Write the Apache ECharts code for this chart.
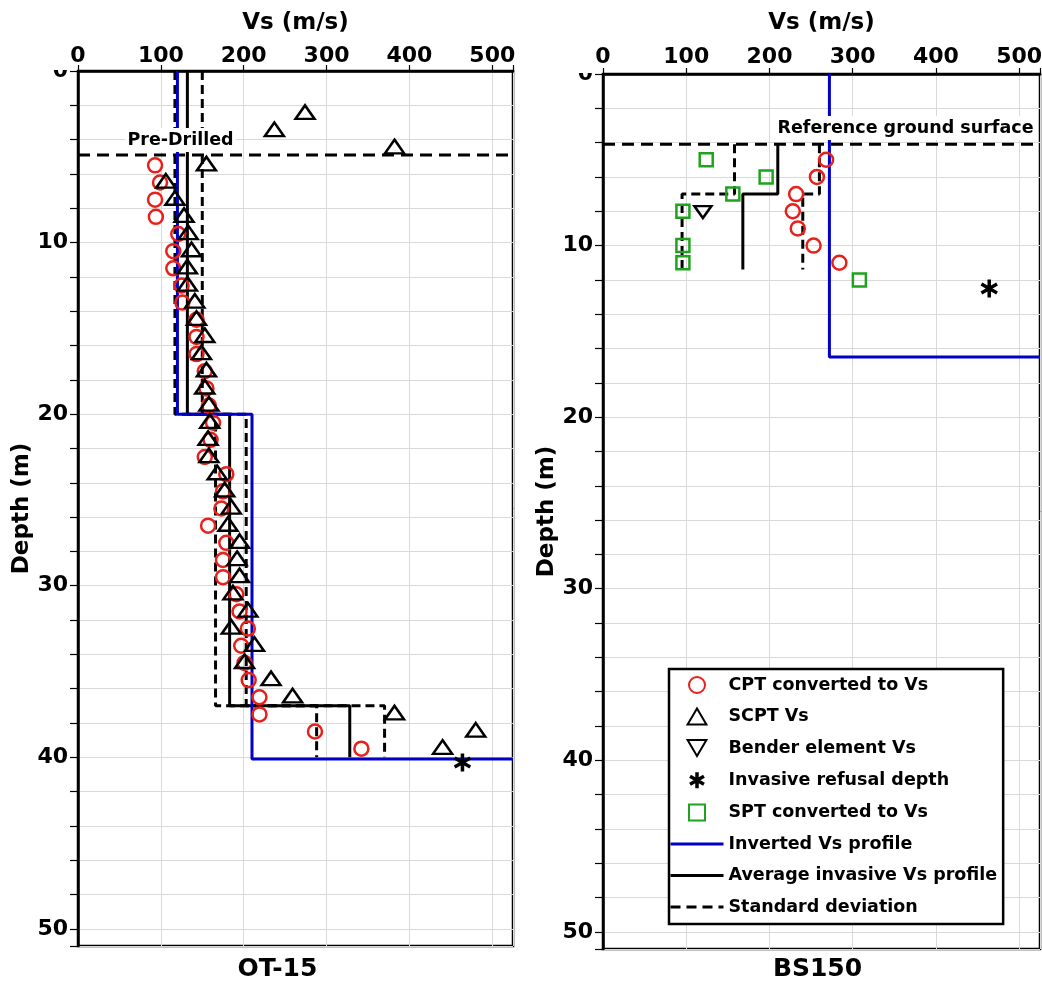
<!DOCTYPE html>
<html><head><meta charset="utf-8">
<script src="https://cdn.jsdelivr.net/npm/echarts@6/dist/echarts.min.js"></script>
<style>html,body{margin:0;padding:0;background:#fff}#c{width:1042px;height:983px}</style>
</head><body><div id="c"></div><script>
const FONT = "'DejaVu Sans', Verdana, sans-serif";
const X_MAX = 525, Y_MAX = 51;

// ---------- OT-15 ----------
const ot15_cpt_depth = [5.5,6.5,7.5,8.5,9.5,10.5,11.5,12.5,13.5,14.5,15.5,16.5,17.5,18.5,19.5,20.5,21.5,22.5,23.5,24.5,25.5,26.5,27.5,28.5,29.5,30.5,31.5,32.5,33.5,34.5,35.5,36.5,37.5,38.5,39.5];
const ot15_cpt_vs    = [93,99,93,94,121,115,115,125,126,143,143,143,153,155,158,163,160,153,179,175,173,157,179,175,175,191,195,205,197,201,206,219,219,286,342];
const ot15_scpt_depth = [2.4,3.4,4.4,5.4,6.4,7.4,8.4,9.4,10.4,11.4,12.4,13.4,14.4,15.4,16.4,17.4,18.4,19.4,20.4,21.4,22.4,23.4,24.4,25.4,26.4,27.4,28.4,29.4,30.4,31.4,32.4,33.4,34.4,35.4,36.4,37.4,38.4,39.4];
const ot15_scpt_vs    = [274,237,382,155,106,117,128,133,137,132,132,141,143,153,149,155,153,158,159,157,158,168,177,185,181,195,192,195,187,205,185,213,201,233,259,382,480,440];
const ot15_refusal_depth = [40.3];
const ot15_refusal_vs    = [464];
const ot15_inv_top = [0, 20];
const ot15_inv_bot = [20, 40.1];
const ot15_inv_vs  = [120, 210];
const ot15_avg_top = [0, 20, 37];
const ot15_avg_bot = [20, 37, 40];
const ot15_avg_vs  = [132, 183, 328];
const ot15_sd_low  = [117, 166, 288];
const ot15_sd_high = [150, 203, 370];
const ot15_predrill_depth = 4.9;

// ---------- BS150 ----------
const bs150_cpt_depth = [5,6,7,8,9,10,11];
const bs150_cpt_vs    = [268,257,232,228,234,253,284];
const bs150_spt_depth = [5,6,7,8,10,11,12];
const bs150_spt_vs    = [124,196,156,96,96,96,308];
const bs150_bender_depth = [8.05];
const bs150_bender_vs    = [120];
const bs150_refusal_depth = [12.5];
const bs150_refusal_vs    = [464];
const bs150_inv_top = [0];
const bs150_inv_bot = [16.5];
const bs150_inv_vs  = [272];
const bs150_avg_top = [4.1, 7];
const bs150_avg_bot = [7, 11.4];
const bs150_avg_vs  = [210, 168];
const bs150_sd_low  = [158, 95];
const bs150_sd_high = [260, 240];
const bs150_ref_depth = 4.1;

// ---------- helpers ----------
const pts = (vs, d) => vs.map((v, i) => [v, d[i]]);
function steps(vs, top, bot, halfspace) {
  const out = [];
  vs.forEach((v, i) => { out.push([v, top[i]]); out.push([v, bot[i]]); });
  if (halfspace) out.push([X_MAX, bot[bot.length - 1]]);
  return out;
}

const BLUE = '#0000c8', RED = '#e8201c', GREEN = '#1fa31f';
const DASH = [9, 5];
const ASTER = 'path://M10,0L10,20M1.3,5L18.7,15M1.3,15L18.7,5';
const TRI_UP = 'path://M10,0L20,17L0,17Z';
const TRI_DOWN = 'path://M0,0L20,0L10,17Z';
const SQUARE = 'path://M0,0L10,0L10,10L0,10Z';
const txt = (size) => ({fontSize: size, fontWeight: 'bold', fontFamily: FONT, color: '#000'});

function xAxis(g, gap, margin) {
  return {
    gridIndex: g, type: 'value', position: 'top', min: 0, max: X_MAX, interval: 100,
    name: 'Vs (m/s)', nameLocation: 'middle', nameGap: gap, nameTextStyle: txt(23),
    axisLine: {show: true, lineStyle: {color: '#000', width: 2.5}},
    axisTick: {show: true, inside: false, length: 6, lineStyle: {color: '#000', width: 1.2}},
    axisLabel: Object.assign(txt(22), {margin, formatter: v => (v % 100 === 0 ? String(v) : '')}),
    splitLine: {show: true, lineStyle: {color: '#d9d9d9', width: 1}}
  };
}
function yAxis(g) {
  return {
    gridIndex: g, type: 'value', inverse: true, min: 0, max: Y_MAX, interval: 2,
    name: 'Depth (m)', nameLocation: 'middle', nameRotate: 90, nameGap: 34, nameTextStyle: txt(23),
    axisLine: {show: true, lineStyle: {color: '#000', width: 2.5}},
    axisTick: {show: true, inside: false, length: 8, lineStyle: {color: '#000', width: 1.2}},
    axisLabel: Object.assign(txt(22), {margin: 10, formatter: v => (v % 10 === 0 ? String(v) : '')}),
    splitLine: {show: true, lineStyle: {color: '#d9d9d9', width: 1}}
  };
}
function lineS(name, g, data, color, type, z) {
  return {name, type: 'line', xAxisIndex: g, yAxisIndex: g, data, symbol: 'none', showSymbol: false, z: z || 3,
    lineStyle: {color, width: 3, type}, itemStyle: {color: 'rgba(0,0,0,0)', borderWidth: 0, opacity: 0}};
}
function scat(name, g, data, symbol, size, color, extra) {
  return Object.assign({name, type: 'scatter', xAxisIndex: g, yAxisIndex: g, data, symbol, symbolSize: size, z: 5,
    symbolKeepAspect: true,
    itemStyle: {color: 'rgba(0,0,0,0)', borderColor: color, borderWidth: 2.5, opacity: 1}}, extra || {});
}
const ASTER_STYLE = {color: 'rgba(0,0,0,0)', borderColor: '#000', borderWidth: 3.5, opacity: 1};

const series = [];
[[0, ot15_predrill_depth], [1, bs150_ref_depth]].forEach(([g, d]) => {
  series.push({name: 'ref' + g, type: 'line', xAxisIndex: g, yAxisIndex: g, data: [[0, d], [X_MAX, d]],
    symbol: 'none', z: 3, lineStyle: {color: '#000', width: 3, type: [12, 7]}});
});
// OT-15 profiles
series.push(lineS('Standard deviation', 0, steps(ot15_sd_low, ot15_avg_top, ot15_avg_bot), '#000', DASH));
series.push(lineS('Standard deviation', 0, steps(ot15_sd_high, ot15_avg_top, ot15_avg_bot), '#000', DASH));
series.push(lineS('Average invasive Vs profile', 0, steps(ot15_avg_vs, ot15_avg_top, ot15_avg_bot), '#000', 'solid'));
series.push(lineS('Inverted Vs profile', 0, steps(ot15_inv_vs, ot15_inv_top, ot15_inv_bot, true), BLUE, 'solid', 4));
// BS150 profiles
series.push(lineS('Standard deviation', 1, steps(bs150_sd_low, bs150_avg_top, bs150_avg_bot), '#000', DASH));
series.push(lineS('Standard deviation', 1, steps(bs150_sd_high, bs150_avg_top, bs150_avg_bot), '#000', DASH));
series.push(lineS('Average invasive Vs profile', 1, steps(bs150_avg_vs, bs150_avg_top, bs150_avg_bot), '#000', 'solid'));
series.push(lineS('Inverted Vs profile', 1, steps(bs150_inv_vs, bs150_inv_top, bs150_inv_bot, true), BLUE, 'solid', 4));
// markers
series.push(scat('CPT converted to Vs', 0, pts(ot15_cpt_vs, ot15_cpt_depth), 'circle', 14, RED));
series.push(scat('SCPT Vs', 0, pts(ot15_scpt_vs, ot15_scpt_depth), TRI_UP, [19, 16], '#000', {z: 6}));
series.push(scat('Invasive refusal depth', 0, pts(ot15_refusal_vs, ot15_refusal_depth), ASTER, [18, 18], '#000',
  {z: 7, itemStyle: ASTER_STYLE}));
series.push(scat('CPT converted to Vs', 1, pts(bs150_cpt_vs, bs150_cpt_depth), 'circle', 14, RED));
series.push(scat('SPT converted to Vs', 1, pts(bs150_spt_vs, bs150_spt_depth), SQUARE, 13, GREEN));
series.push(scat('Bender element Vs', 1, pts(bs150_bender_vs, bs150_bender_depth), TRI_DOWN, [17, 14], '#000'));
series.push(scat('Invasive refusal depth', 1, pts(bs150_refusal_vs, bs150_refusal_depth), ASTER, [18, 18], '#000',
  {z: 7, itemStyle: ASTER_STYLE}));

const gtext = (text, x, y, size, bg) => ({
  type: 'text', x, y, z: 50,
  style: Object.assign({text, font: 'bold ' + size + 'px ' + FONT, fill: '#000', align: 'center', verticalAlign: 'middle'},
    bg ? {backgroundColor: '#fff', padding: [3, 2]} : {})
});

const lineItem = (name, type) => ({name, itemStyle: {opacity: 0}, lineStyle: {width: 3, type}});

const option = {
  animation: false,
  backgroundColor: '#fff',
  grid: [
    {left: 78, top: 71, width: 435, height: 875, show: true, borderColor: '#000', borderWidth: 2.5, backgroundColor: 'transparent', outerBoundsMode: 'none'},
    {left: 603, top: 74, width: 437, height: 875, show: true, borderColor: '#000', borderWidth: 2.5, backgroundColor: 'transparent', outerBoundsMode: 'none'}
  ],
  xAxis: [xAxis(0, 36, 4), xAxis(1, 39, 6)],
  yAxis: [yAxis(0), yAxis(1)],
  legend: {
    orient: 'vertical', left: 669, top: 669, padding: [7, 6, 8, 0],
    itemWidth: 53, itemHeight: 16, itemGap: 13.5, symbolKeepAspect: true,
    backgroundColor: '#fff', borderColor: '#000', borderWidth: 2.5,
    textStyle: txt(17.5), selectedMode: false,
    data: ['CPT converted to Vs', 'SCPT Vs', 'Bender element Vs',
           {name: 'Invasive refusal depth', itemStyle: {borderWidth: 3.5}},
           'SPT converted to Vs',
           lineItem('Inverted Vs profile', 'solid'), lineItem('Average invasive Vs profile', 'solid'),
           lineItem('Standard deviation', [10, 6])]
  },
  graphic: [
    {type: 'rect', z: 40, shape: {x: 0, y: 0, width: 70, height: 70}, style: {fill: '#fff'}},
    {type: 'rect', z: 40, shape: {x: 528, y: 0, width: 67, height: 73}, style: {fill: '#fff'}},
    gtext('Pre-Drilled', 180.5, 140, 17.5, true),
    gtext('Reference ground surface', 905.5, 128, 17.5, true),
    gtext('OT-15', 277.5, 969, 25),
    gtext('BS150', 817.5, 969, 25)
  ],
  series
};
echarts.init(document.getElementById('c'), null, {renderer: 'canvas'}).setOption(option);
</script></body></html>
